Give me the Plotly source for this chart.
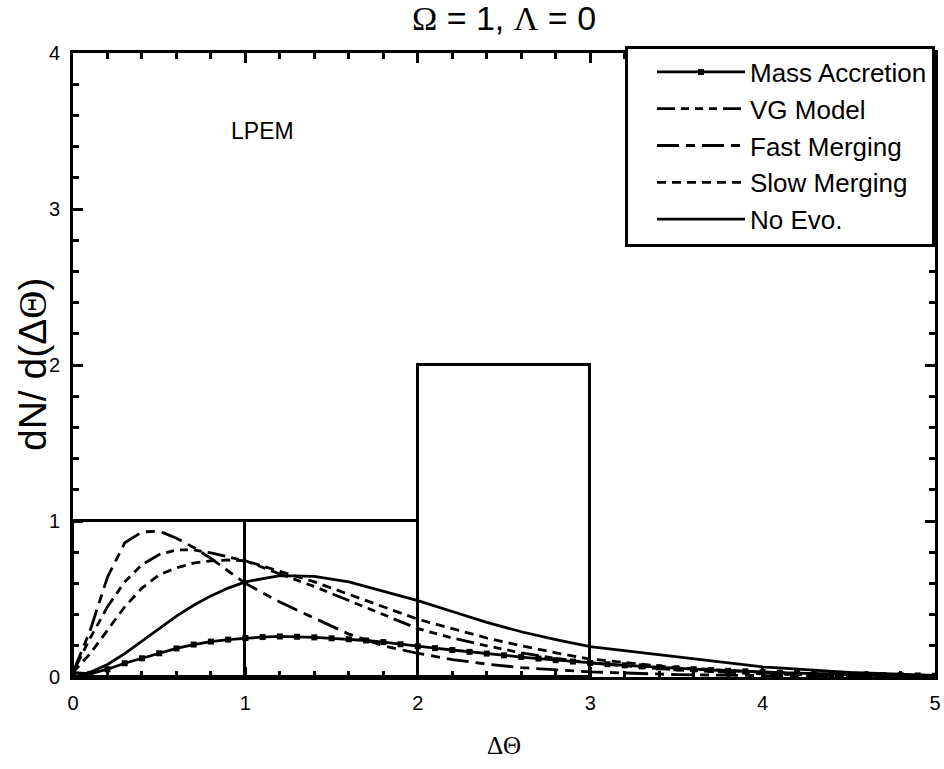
import plotly.graph_objects as go

# ---------------- data ----------------
hist_centers = [0.5, 1.5, 2.5]
hist_counts = [1, 1, 2]
hist_width = 1.0

mass_x = [0.0, 0.1, 0.2, 0.3, 0.4, 0.5, 0.6, 0.7, 0.8, 0.9, 1.0, 1.1, 1.2, 1.3, 1.4, 1.5, 1.6, 1.7,
          1.8, 1.9, 2.0, 2.1, 2.2, 2.3, 2.4, 2.5, 2.6, 2.7, 2.8, 2.9, 3.0, 3.1, 3.2, 3.3, 3.4, 3.5,
          3.6, 3.7, 3.8, 3.9, 4.0, 4.1, 4.2, 4.3, 4.4, 4.5, 4.6, 4.7, 4.8, 4.9, 5.0]
mass_y = [0.03, 0.02, 0.05, 0.088, 0.12, 0.152, 0.183, 0.208, 0.227, 0.24, 0.25, 0.256, 0.26, 0.258,
          0.254, 0.248, 0.242, 0.234, 0.224, 0.21, 0.197, 0.185, 0.173, 0.161, 0.15, 0.139, 0.128,
          0.118, 0.108, 0.099, 0.09, 0.082, 0.075, 0.068, 0.062, 0.056, 0.05, 0.045, 0.04, 0.036,
          0.032, 0.028, 0.025, 0.022, 0.019, 0.017, 0.015, 0.013, 0.011, 0.01, 0.008]

curve_x = [0.0, 0.1, 0.2, 0.3, 0.4, 0.5, 0.6, 0.7, 0.8, 0.9, 1.0, 1.2, 1.4, 1.6, 1.8, 2.0,
           2.2, 2.4, 2.6, 2.8, 3.0, 3.5, 4.0, 4.5, 5.0]
vg_y = [0.03, 0.25, 0.45, 0.61, 0.72, 0.785, 0.815, 0.815, 0.795, 0.77, 0.745, 0.66, 0.58, 0.49,
        0.40, 0.31, 0.25, 0.20, 0.155, 0.12, 0.09, 0.045, 0.02, 0.01, 0.005]
fast_y = [0.03, 0.30, 0.64, 0.86, 0.93, 0.935, 0.89, 0.83, 0.76, 0.68, 0.60, 0.48, 0.375, 0.275,
          0.20, 0.152, 0.112, 0.083, 0.06, 0.045, 0.033, 0.015, 0.007, 0.003, 0.001]
slow_y = [0.03, 0.15, 0.30, 0.45, 0.57, 0.655, 0.70, 0.73, 0.745, 0.75, 0.745, 0.68, 0.61, 0.53,
          0.45, 0.37, 0.31, 0.25, 0.20, 0.155, 0.115, 0.06, 0.03, 0.015, 0.007]
noevo_y = [0.0, 0.03, 0.08, 0.15, 0.23, 0.31, 0.39, 0.46, 0.52, 0.57, 0.61, 0.65, 0.645, 0.61,
           0.55, 0.49, 0.42, 0.35, 0.29, 0.24, 0.195, 0.13, 0.065, 0.03, 0.01]

series_names = ["Mass Accretion", "VG Model", "Fast Merging", "Slow Merging", "No Evo."]
x_ticks = [0, 1, 2, 3, 4, 5]
y_ticks = [0, 1, 2, 3, 4]

SANS = "Liberation Sans, Arial, sans-serif"
SERIF = "Liberation Serif, Times New Roman, serif"

fig = go.Figure()

# histogram outline
fig.add_trace(go.Bar(x=hist_centers, y=hist_counts, width=hist_width,
                     marker=dict(color="rgba(0,0,0,0)", line=dict(color="black", width=3)),
                     showlegend=False, hoverinfo="skip"))

LW = 2.8
fig.add_trace(go.Scatter(x=mass_x, y=mass_y, mode="lines+markers", name=series_names[0],
                         line=dict(color="black", width=LW),
                         marker=dict(symbol="square", size=6, color="black")))
fig.add_trace(go.Scatter(x=curve_x, y=vg_y, mode="lines", name=series_names[1],
                         line=dict(color="black", width=LW,
                                   dash="18px,6px,8px,6px,8px,6px,8px,6px")))
fig.add_trace(go.Scatter(x=curve_x, y=fast_y, mode="lines", name=series_names[2],
                         line=dict(color="black", width=LW, dash="22px,7px,9px,7px")))
fig.add_trace(go.Scatter(x=curve_x, y=slow_y, mode="lines", name=series_names[3],
                         line=dict(color="black", width=LW, dash="9px,6px")))
fig.add_trace(go.Scatter(x=curve_x, y=noevo_y, mode="lines", name=series_names[4],
                         line=dict(color="black", width=LW)))

axis_common = dict(showline=True, linecolor="black", linewidth=3, mirror="ticks",
                   ticks="inside", ticklen=10, tickwidth=2.5, tickcolor="black",
                   showgrid=False, zeroline=False, automargin=False,
                   tickfont=dict(family=SANS, size=20, color="black"))

fig.update_xaxes(range=[0, 5], tickvals=x_ticks, ticktext=[str(v) for v in x_ticks],
                 minor=dict(dtick=0.2, ticks="inside", ticklen=6, tickwidth=2.5, tickcolor="black"),
                 ticklabelstandoff=6,
                 title=dict(text="ΔΘ", font=dict(family=SERIF, size=25, color="black"), standoff=24),
                 **axis_common)
fig.update_yaxes(range=[0, 4], tickvals=y_ticks, ticktext=[str(v) for v in y_ticks],
                 minor=dict(dtick=0.2, ticks="inside", ticklen=6, tickwidth=2.5, tickcolor="black"),
                 ticklabelstandoff=6,
                 **axis_common)

# y-axis title (rotated text placed left of the tick labels)
fig.add_annotation(x=0, y=0.5, xref="paper", yref="paper", xanchor="center", yanchor="middle",
                   xshift=-41, textangle=-90, showarrow=False,
                   text="dN/ d(Δ<span style='font-family:Liberation Serif'>Θ</span>)",
                   font=dict(family=SANS, size=39, color="black"))

fig.add_annotation(x=1.1, y=3.5, xref="x", yref="y", text="LPEM", showarrow=False,
                   font=dict(family=SANS, size=23, color="black"))

fig.update_layout(
    width=944, height=769,
    margin=dict(l=73, r=9, t=53, b=92),
    paper_bgcolor="white", plot_bgcolor="white",
    title=dict(text="<span style='font-family:Liberation Serif'>Ω</span> = 1, "
                    "<span style='font-family:Liberation Serif'>Λ</span> = 0",
               x=0.5, xref="paper", xanchor="center",
               y=1 - 18 / 769, yref="container", yanchor="middle",
               font=dict(family=SANS, size=34, color="black")),
    legend=dict(x=1.0, xanchor="right", y=1.012, yanchor="top",
                bordercolor="black", borderwidth=3, bgcolor="white",
                font=dict(family=SANS, size=26, color="black"),
                itemwidth=88, indentation=24, traceorder="normal"),
    bargap=0,
)

fig.write_html("out.html", config={"displayModeBar": False},
               post_script="document.body.style.margin='0';")
